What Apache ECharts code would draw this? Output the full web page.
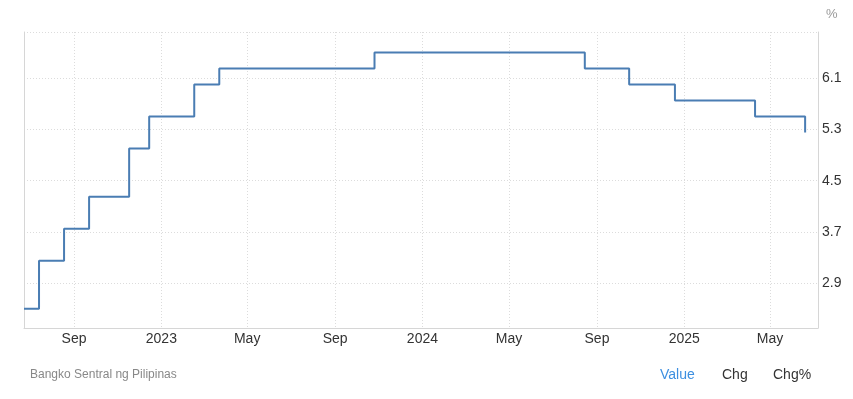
<!DOCTYPE html>
<html>
<head>
<meta charset="utf-8">
<script src="https://cdn.jsdelivr.net/npm/echarts@6.0.0/dist/echarts.min.js"></script>
<style>
  html, body { margin: 0; padding: 0; background: #fff; }
  #chart { width: 853px; height: 399px; }
</style>
</head>
<body>
<div id="chart"></div>
<script>
// 利率决议日期与对应政策利率(%)
const dates = [
  '2022-06-23', '2022-07-14', '2022-08-18', '2022-09-22', '2022-11-17', '2022-12-15',
  '2023-02-16', '2023-03-23', '2023-10-26', '2024-08-15', '2024-10-16', '2024-12-19',
  '2025-04-10', '2025-06-19'
];
const rates = [2.5, 3.25, 3.75, 4.25, 5.0, 5.5, 6.0, 6.25, 6.5, 6.25, 6.0, 5.75, 5.5, 5.25];

// 坐标轴刻度
const xTicks = ['2022-09-01', '2023-01-01', '2023-05-01', '2023-09-01', '2024-01-01',
  '2024-05-01', '2024-09-01', '2025-01-01', '2025-05-01'];
const yLabels = [2.9, 3.7, 4.5, 5.3, 6.1];
const yGrid = [2.9, 3.7, 4.5, 5.3, 6.1, 6.82];
const MONTHS = ['Jan', 'Feb', 'Mar', 'Apr', 'May', 'Jun', 'Jul', 'Aug', 'Sep', 'Oct', 'Nov', 'Dec'];

const FONT = '"Liberation Sans", Arial, Helvetica, sans-serif';
const LINE = '#4a7db3';
const GRID = '#dcdcdc';

// time 轴配 customValues 会报错,这里用数值轴 + UTC 时间戳
const ts = (s) => Date.parse(s + 'T00:00:00Z');
const xTickTs = xTicks.map(ts);

const chart = echarts.init(document.getElementById('chart'));
chart.setOption({
  animation: false,
  textStyle: { fontFamily: FONT },
  grid: { left: 24, right: 35, top: 32, bottom: 71 },
  xAxis: {
    type: 'value',
    min: ts('2022-06-23'),
    max: ts('2025-07-07'),
    axisLine: { show: true, onZero: false, lineStyle: { color: '#d6d6d6', width: 1 } },
    axisTick: { show: false, customValues: xTickTs },
    axisLabel: {
      customValues: xTickTs,
      color: '#333',
      fontSize: 14,
      margin: 4,
      fontFamily: FONT,
      formatter: function (v) {
        const d = new Date(v);
        return d.getUTCMonth() === 0 ? String(d.getUTCFullYear()) : MONTHS[d.getUTCMonth()];
      }
    },
    splitLine: { show: true, lineStyle: { color: GRID, type: [1, 2] } }
  },
  yAxis: [{
    type: 'value',
    position: 'right',
    min: 2.2,
    max: 6.82,
    axisLine: { show: true, lineStyle: { color: '#d6d6d6', width: 1 } },
    axisTick: { show: false, customValues: yGrid },
    axisLabel: {
      customValues: yLabels,
      color: '#333',
      fontSize: 14,
      margin: 4,
      fontFamily: FONT,
      formatter: function (v) { return v.toFixed(1); }
    },
    splitLine: { show: true, lineStyle: { color: GRID, type: [1, 2] } }
  }, {
    // 左侧边框线
    type: 'value',
    position: 'left',
    min: 2.2,
    max: 6.82,
    axisLine: { show: true, lineStyle: { color: '#d6d6d6', width: 1 } },
    axisTick: { show: false },
    axisLabel: { show: false },
    splitLine: { show: false }
  }],
  series: [{
    type: 'line',
    step: 'end',
    data: dates.map((d, i) => [ts(d), rates[i]]),
    symbol: 'none',
    lineStyle: { color: LINE, width: 2 },
    itemStyle: { color: LINE }
  }],
  graphic: [
    { type: 'text', left: 826, top: 8, style: { text: '%', fill: '#999', fontSize: 13, fontFamily: FONT } },
    { type: 'text', left: 30, top: 369, style: { text: 'Bangko Sentral ng Pilipinas', fill: '#888', fontSize: 12, fontFamily: FONT } },
    { type: 'text', left: 660, top: 368, style: { text: 'Value', fill: '#3d8fe0', fontSize: 14, fontFamily: FONT } },
    { type: 'text', left: 722, top: 368, style: { text: 'Chg', fill: '#333', fontSize: 14, fontFamily: FONT } },
    { type: 'text', left: 773, top: 368, style: { text: 'Chg%', fill: '#333', fontSize: 14, fontFamily: FONT } }
  ]
});
</script>
</body>
</html>
